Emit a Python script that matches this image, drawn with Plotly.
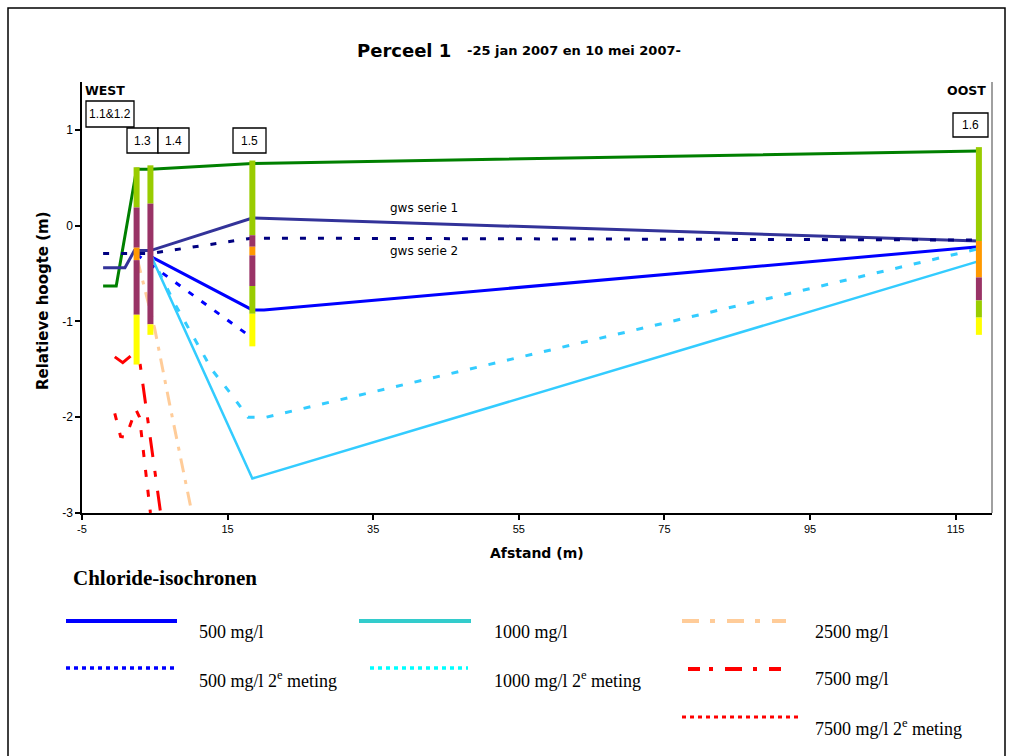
import plotly.graph_objects as go

# ---------------- data ----------------
dist_maaiveld = [-2.1, -0.3, 2.5, 4.4, 18.4, 118.2]
h_maaiveld = [-0.63, -0.63, 0.59, 0.59, 0.65, 0.78]

dist_gws1 = [-2.1, 0.9, 2.2, 4.4, 18.4, 118.2]
h_gws1 = [-0.44, -0.44, -0.26, -0.26, 0.08, -0.16]

dist_gws2 = [-2.1, 2.5, 4.4, 18.4, 118.2]
h_gws2 = [-0.29, -0.29, -0.29, -0.13, -0.15]

dist_500 = [4.4, 18.4, 20.0, 118.2]
h_500 = [-0.32, -0.88, -0.88, -0.22]

dist_500_2 = [2.5, 17.8]
h_500_2 = [-0.30, -1.14]

dist_1000 = [4.4, 18.4, 118.2]
h_1000 = [-0.30, -2.64, -0.37]

dist_1000_2 = [4.4, 7.7, 12.9, 15.7, 17.8, 20.3, 118.2]
h_1000_2 = [-0.30, -0.81, -1.51, -1.78, -2.00, -2.00, -0.24]

dist_2500 = [2.6, 5.0, 7.0, 10.1]
h_2500 = [-0.35, -1.08, -1.85, -3.00]

dist_7500 = [-0.5, 0.6, 1.7, 2.9, 5.8]
h_7500 = [-1.37, -1.43, -1.36, -1.40, -3.00]

dist_7500_2 = [-0.5, 0.3, 1.0, 2.4, 2.9, 4.4]
h_7500_2 = [-1.96, -2.20, -2.21, -1.92, -2.00, -3.00]

well_names = ["1.3", "1.4", "1.5", "1.6"]
well_dist = [2.5, 4.4, 18.4, 118.2]
well_bounds = [
    [0.61, 0.19, -0.23, -0.36, -0.93, -1.45],
    [0.63, 0.23, -1.03, -1.14],
    [0.68, -0.10, -0.22, -0.31, -0.63, -0.92, -1.26],
    [0.82, -0.16, -0.54, -0.78, -0.96, -1.14],
]
well_layers = [
    ["A", "B", "C", "B", "D"],
    ["A", "B", "D"],
    ["A", "B", "C", "B", "A", "D"],
    ["A", "C", "B", "A", "D"],
]

x_ticks = [-5, 15, 35, 55, 75, 95, 115]
y_ticks = [-3, -2, -1, 0, 1]

# ---------------- styles ----------------
layer_colors = {"A": "#99CC00", "B": "#993366", "C": "#FF9900", "D": "#FFFF00"}
NARROW = "Liberation Sans, Arial, sans-serif"
BOLD = "DejaVu Sans, Verdana, sans-serif"
SERIF = "Liberation Serif, Times New Roman, serif"

L, R, T, B = 82, 992, 82, 513
W, H = R - L, B - T


def px(x):
    return (x - L) / W


def py(y):
    return (B - y) / H


fig = go.Figure()


def line(xs, ys, color, width, dash="solid"):
    fig.add_trace(go.Scatter(x=xs, y=ys, mode="lines",
                             line=dict(color=color, width=width, dash=dash),
                             hoverinfo="skip", showlegend=False))


line(dist_maaiveld, h_maaiveld, "#008000", 3)
line(dist_gws1, h_gws1, "#333399", 3)
line(dist_gws2, h_gws2, "#000080", 3, "6px,12px")
line(dist_500, h_500, "#0000FF", 3)
line(dist_500_2, h_500_2, "#0000FF", 3, "6px,10px")
line(dist_1000, h_1000, "#33CCFF", 2.5)
line(dist_1000_2, h_1000_2, "#33CCFF", 3, "7px,12px")
line(dist_2500, h_2500, "#FFCC99", 3, "14px,8px,4px,8px")
line(dist_7500, h_7500, "#FF0000", 3, "20px,14px,6px,14px")
line(dist_7500_2, h_7500_2, "#FF0000", 3, "7px,13px")

# well bars
for xw, bounds, layers in zip(well_dist, well_bounds, well_layers):
    for i, code in enumerate(layers):
        line([xw, xw], [bounds[i], bounds[i + 1]], layer_colors[code], 6)

shapes = []
annotations = []

# outer frame
shapes.append(dict(type="rect", xref="paper", yref="paper",
                   x0=px(8), x1=px(1005), y0=py(770), y1=py(8),
                   line=dict(color="black", width=1.5)))
# right border of plot area
shapes.append(dict(type="line", xref="paper", yref="paper",
                   x0=px(992), x1=px(992), y0=py(513), y1=py(82),
                   line=dict(color="#808080", width=1.5)))


def text(x, y, s, size, family, xanchor="left", bold=False, color="black", textangle=0):
    if bold:
        s = "<b>" + s + "</b>"
    annotations.append(dict(xref="paper", yref="paper", x=px(x), y=py(y), text=s,
                            showarrow=False, xanchor=xanchor, yanchor="middle",
                            font=dict(size=size, family=family, color=color),
                            textangle=textangle))


# title
text(355, 50, "Perceel 1", 18, BOLD, bold=True)
text(465, 51, "-25 jan 2007 en 10 mei 2007-", 13, BOLD, bold=True)

# axis titles
text(537, 553, "Afstand (m)", 14, BOLD, xanchor="center", bold=True)
text(43, 301, "Relatieve hoogte (m)", 15, BOLD, xanchor="center", bold=True, textangle=-90)

# WEST / OOST
text(83, 91, "WEST", 12.5, BOLD, bold=True)
text(988, 91, "OOST", 12.5, BOLD, xanchor="right", bold=True)

# well label boxes (pixel positions of decoration)
boxes = [("1.1&1.2", 86, 134, 101, 127), ("1.3", 127, 158, 128, 153),
         ("1.4", 158, 189, 128, 153), ("1.5", 233, 266, 128, 153),
         ("1.6", 953, 988, 113, 137)]
for lab, x0, x1, y0, y1 in boxes:
    shapes.append(dict(type="rect", xref="paper", yref="paper",
                       x0=px(x0), x1=px(x1), y0=py(y1), y1=py(y0),
                       line=dict(color="black", width=1.3), fillcolor="white"))
    text((x0 + x1) / 2, (y0 + y1) / 2, lab, 12, NARROW, xanchor="center")

# gws labels
text(388, 208, "gws serie 1", 12, "DejaVu Sans, sans-serif")
text(388, 251, "gws serie 2", 12, "DejaVu Sans, sans-serif")

# legend block
text(71, 578, "Chloride-isochronen", 21, SERIF, bold=True)

legend_items = [
    (66, 177, 621, "#0000FF", 4, "solid", 197, 632, "500 mg/l"),
    (66, 174, 668, "#0000FF", 3.5, "4px,4px", 197, 679, "500 mg/l 2<sup>e</sup> meting"),
    (359, 471, 621, "#33CCCC", 4, "solid", 492, 632, "1000 mg/l"),
    (370, 468, 668, "#00FFFF", 3.5, "4px,4px", 492, 679, "1000 mg/l 2<sup>e</sup> meting"),
    (682, 786, 621, "#FFCC99", 4, "17px,11px,5px,12px", 813, 632, "2500 mg/l"),
    (688, 786, 669, "#FF0000", 4, "12px,9px,4px,12px,17px,11px,4px,12px", 813, 679, "7500 mg/l"),
    (682, 798, 717, "#FF0000", 3, "4px,4px", 813, 727, "7500 mg/l 2<sup>e</sup> meting"),
]
for x0, x1, yl, col, wdt, dash, tx, ty, lab in legend_items:
    shapes.append(dict(type="line", xref="paper", yref="paper",
                       x0=px(x0), x1=px(x1), y0=py(yl), y1=py(yl),
                       line=dict(color=col, width=wdt, dash=dash)))
    text(tx, ty, lab, 18, SERIF)

fig.update_layout(
    width=1016, height=756,
    margin=dict(l=L, r=1016 - R, t=T, b=756 - B, pad=0),
    paper_bgcolor="white", plot_bgcolor="white",
    showlegend=False,
    shapes=shapes, annotations=annotations,
    xaxis=dict(range=[-5, 120], tickvals=x_ticks, ticktext=[str(v) for v in x_ticks],
               showgrid=False, zeroline=False, showline=True, linecolor="black", linewidth=1.5,
               ticks="outside", ticklen=5, tickwidth=1.5, tickcolor="black",
               tickfont=dict(family=NARROW, size=11, color="black")),
    yaxis=dict(range=[-3, 1.5], tickvals=y_ticks, ticktext=[str(v) for v in y_ticks],
               showgrid=False, zeroline=False, showline=True, linecolor="black", linewidth=1.5,
               ticks="outside", ticklen=5, tickwidth=1.5, tickcolor="black",
               tickfont=dict(family=NARROW, size=12, color="black")),
)

fig.write_html("out.html")
